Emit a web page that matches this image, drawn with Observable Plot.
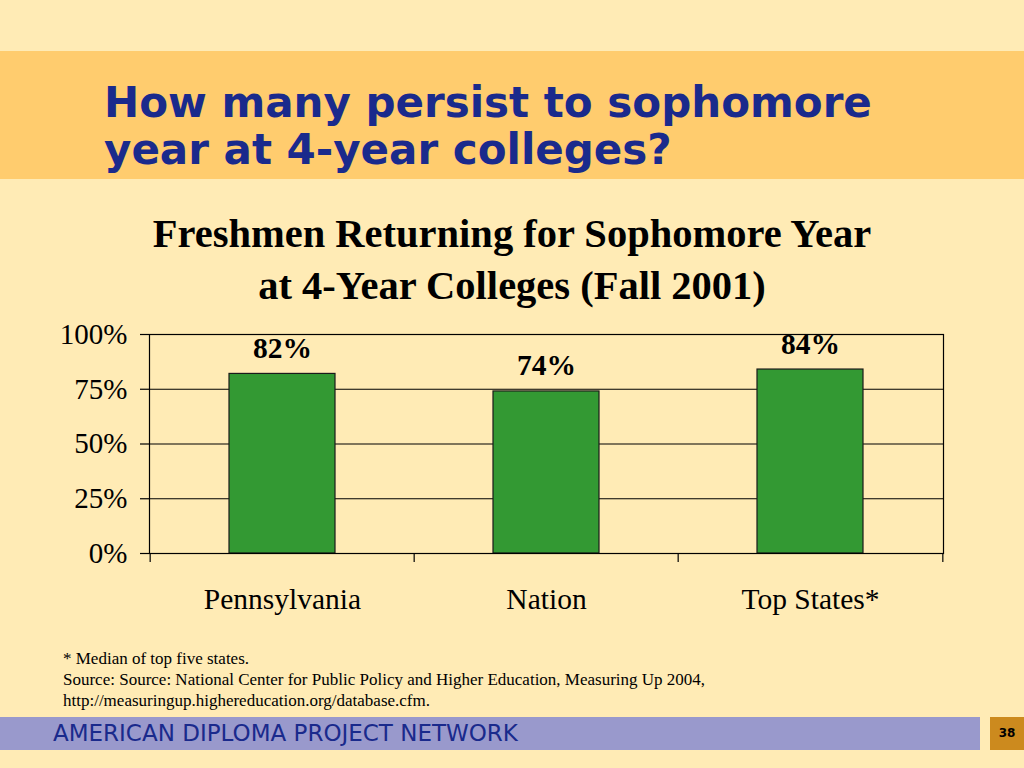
<!DOCTYPE html>
<html><head><meta charset="utf-8">
<script src="https://cdn.jsdelivr.net/npm/d3@7"></script>
<script src="https://cdn.jsdelivr.net/npm/@observablehq/plot@0.6"></script>
<style>
html,body{margin:0;padding:0;}
body{width:1024px;height:768px;background:#FFEBB5;position:relative;overflow:hidden;}
#band{position:absolute;left:0;top:51px;width:1024px;height:128px;background:#FFCC6E;}
#title{position:absolute;left:104px;top:79px;font-family:"DejaVu Sans",Verdana,sans-serif;font-weight:bold;font-size:42px;line-height:47px;color:#1A2A8C;white-space:nowrap;}
#ctitle{position:absolute;left:0;width:1024px;top:208px;text-align:center;font-family:"Liberation Serif","Times New Roman",serif;font-weight:bold;font-size:40.5px;line-height:52px;color:#000;}
#chart{position:absolute;left:0;top:320px;}
#notes{position:absolute;left:63px;top:648px;font-family:"Liberation Serif","Times New Roman",serif;font-size:17px;line-height:21px;color:#000;white-space:nowrap;}
#foot{position:absolute;left:0;top:717px;width:980px;height:33px;background:#9999CC;}
#foottext{position:absolute;left:53px;top:720px;font-family:"DejaVu Sans",Verdana,sans-serif;font-size:23px;color:#1A2A8C;white-space:nowrap;}
#pg{position:absolute;left:990px;top:717px;width:34px;height:33px;background:#CC8A1E;font-family:"DejaVu Sans",Verdana,sans-serif;font-weight:bold;font-size:12px;color:#000;text-align:center;line-height:33px;}
</style></head>
<body>
<div id="band"></div>
<div id="title">How many persist to sophomore<br>year at 4-year colleges?</div>
<div id="ctitle">Freshmen Returning for Sophomore Year<br>at 4-Year Colleges (Fall 2001)</div>
<div id="chart"></div>
<div id="notes">* Median of top five states.<br>Source: Source: National Center for Public Policy and Higher Education, Measuring Up 2004,<br>http://measuringup.highereducation.org/database.cfm.</div>
<div id="foot"></div>
<div id="foottext">AMERICAN DIPLOMA PROJECT NETWORK</div>
<div id="pg">38</div>
<script>
const categories = ["Pennsylvania", "Nation", "Top States*"];
const values = [0.82, 0.74, 0.84];
const yTicks = [0, 0.25, 0.5, 0.75, 1];
const gridTicks = [0.25, 0.5, 0.75];

const data = categories.map((c, i) => ({category: c, value: values[i]}));

const W = 1024, H = 300;
const mL = 149, mR = 81, mT = 14, mB = 67;
const step = (W - mL - mR) / categories.length;
const serif = "Liberation Serif, Times New Roman, serif";

const plot = Plot.plot({
  width: W, height: H,
  marginLeft: mL, marginRight: mR, marginTop: mT, marginBottom: mB,
  style: {background: "transparent", fontFamily: serif, color: "#000", overflow: "visible"},
  x: {domain: categories, paddingInner: 0.6, paddingOuter: 0.3},
  y: {domain: [0, 1]},
  marks: [
    Plot.ruleY(gridTicks, {stroke: "#000", strokeWidth: 1.2}),
    Plot.barY(data, {x: "category", y: "value", fill: "#339933", stroke: "#1a1a1a", strokeWidth: 1.2}),
    Plot.frame({stroke: "#000", strokeWidth: 1.2}),
    Plot.axisY({ticks: yTicks, tickSize: 9, tickPadding: 13, tickFormat: d => Math.round(d*100) + "%", fontSize: 29, label: null, stroke: "#000", strokeWidth: 1.2}),
    Plot.axisX({tickSize: 9, dx: -step/2, tickFormat: () => "", label: null, stroke: "#000", strokeWidth: 1.2}),
    Plot.axisX([categories[categories.length-1]], {tickSize: 9, dx: step/2, tickFormat: () => "", label: null, stroke: "#000", strokeWidth: 1.2}),
    Plot.axisX({tickSize: 0, tickPadding: 35, fontSize: 29.5, label: null}),
    Plot.text(data, {x: "category", y: "value", text: d => Math.round(d.value*100) + "%", dy: -16, lineAnchor: "bottom", fontSize: 29.5, fontWeight: "bold", fill: "#000"})
  ]
});
document.getElementById("chart").appendChild(plot);
</script>
</body></html>
